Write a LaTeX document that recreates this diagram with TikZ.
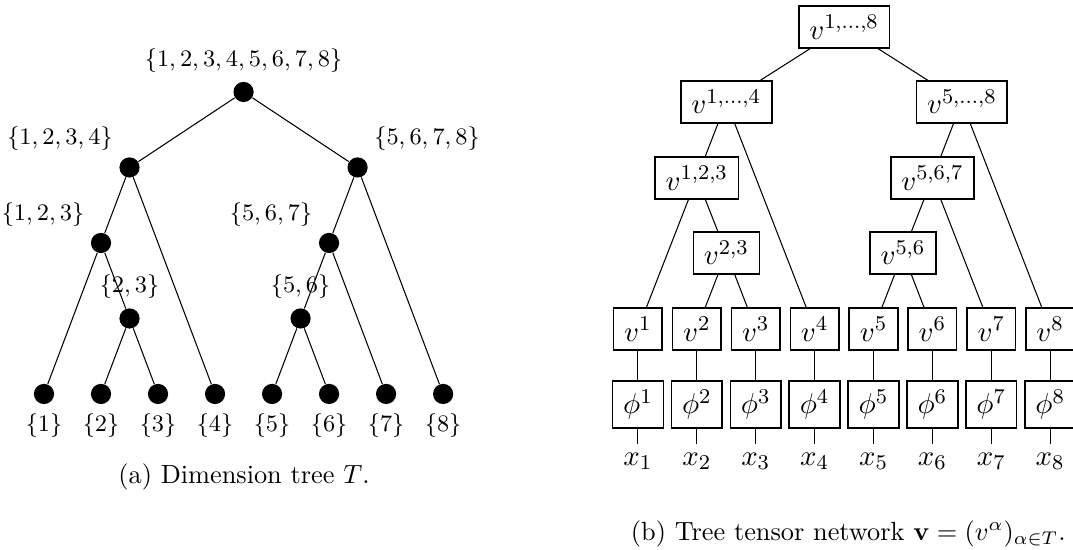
\documentclass[tikz,border=0pt]{standalone}
\usepackage{amsmath}
\usetikzlibrary{positioning}
\begin{document}
\begin{tikzpicture}[
    dot/.style={circle, fill=black, inner sep=0pt, minimum size=.27cm},
    lab/.style={font=\small},
    tens/.style={draw, semithick, font=\fontsize{11}{13}\selectfont, inner xsep=4pt, inner ysep=3.4pt},
    var/.style={anchor=north, font=\fontsize{11}{13}\selectfont}
  ]
  \useasboundingbox (0,0) rectangle (14.34,7.35);
  % (a) dimension tree
  \node [dot, label={[lab]above:$\{1,2,3,4,5,6,7,8\}$}] (t18) at (3.255,6.121) {};
  \node [dot, label={[lab]north west:$\{1,2,3,4\}$}] (t14) at (1.731,5.112) {};
  \node [dot, label={[lab]north east:$\{5,6,7,8\}$}] (t58) at (4.779,5.112) {};
  \node [dot, label={[lab]north west:$\{1,2,3\}$}] (t13) at (1.350,4.103) {};
  \node [dot, label={[lab]north west:$\{5,6,7\}$}] (t57) at (4.398,4.103) {};
  \node [dot, label={[lab]above:$\{2,3\}$}] (t23) at (1.731,3.094) {};
  \node [dot, label={[lab]above:$\{5,6\}$}] (t56) at (4.017,3.094) {};
  \node [dot, label={[lab]below:$\{1\}$}] (t1) at (0.588,2.085) {};
  \node [dot, label={[lab]below:$\{2\}$}] (t2) at (1.350,2.085) {};
  \node [dot, label={[lab]below:$\{3\}$}] (t3) at (2.112,2.085) {};
  \node [dot, label={[lab]below:$\{4\}$}] (t4) at (2.874,2.085) {};
  \node [dot, label={[lab]below:$\{5\}$}] (t5) at (3.636,2.085) {};
  \node [dot, label={[lab]below:$\{6\}$}] (t6) at (4.398,2.085) {};
  \node [dot, label={[lab]below:$\{7\}$}] (t7) at (5.160,2.085) {};
  \node [dot, label={[lab]below:$\{8\}$}] (t8) at (5.922,2.085) {};
  \draw (t18) -- (t14) (t18) -- (t58);
  \draw (t14) -- (t13) (t14) -- (t4) (t13) -- (t1) (t13) -- (t23) (t23) -- (t2) (t23) -- (t3);
  \draw (t58) -- (t57) (t58) -- (t8) (t57) -- (t56) (t57) -- (t7) (t56) -- (t5) (t56) -- (t6);
  \node (capa) at (3.261,0.976) {(a) Dimension tree $T$.};
  % (b) tree tensor network
  \node [tens] (v18) at (11.281,6.989) {$v^{1,\dots,8}$};
  \node [tens] (v14) at (9.707,5.987) {$v^{1,\dots,4}$};
  \node [tens] (v58) at (12.855,5.987) {$v^{5,\dots,8}$};
  \node [tens] (v13) at (9.313,4.971) {$v^{1,2,3}$};
  \node [tens] (v57) at (12.461,4.971) {$v^{5,6,7}$};
  \node [tens] (v23) at (9.707,3.969) {$v^{2,3}$};
  \node [tens] (v56) at (12.068,3.969) {$v^{5,6}$};
  \node [tens] (v1) at (8.526,2.953) {$v^1$};
  \node [tens] (v2) at (9.313,2.953) {$v^2$};
  \node [tens] (v3) at (10.100,2.953) {$v^3$};
  \node [tens] (v4) at (10.887,2.953) {$v^4$};
  \node [tens] (v5) at (11.674,2.953) {$v^5$};
  \node [tens] (v6) at (12.461,2.953) {$v^6$};
  \node [tens] (v7) at (13.248,2.953) {$v^7$};
  \node [tens] (v8) at (14.035,2.953) {$v^8$};
  \node [tens] (p1) at (8.526,1.944) {$\phi^1$};
  \node [tens] (p2) at (9.313,1.944) {$\phi^2$};
  \node [tens] (p3) at (10.100,1.944) {$\phi^3$};
  \node [tens] (p4) at (10.887,1.944) {$\phi^4$};
  \node [tens] (p5) at (11.674,1.944) {$\phi^5$};
  \node [tens] (p6) at (12.461,1.944) {$\phi^6$};
  \node [tens] (p7) at (13.248,1.944) {$\phi^7$};
  \node [tens] (p8) at (14.035,1.944) {$\phi^8$};
  \node [var] (x1) at (8.526,1.417) {$x_1$};
  \node [var] (x2) at (9.313,1.417) {$x_2$};
  \node [var] (x3) at (10.100,1.417) {$x_3$};
  \node [var] (x4) at (10.887,1.417) {$x_4$};
  \node [var] (x5) at (11.674,1.417) {$x_5$};
  \node [var] (x6) at (12.461,1.417) {$x_6$};
  \node [var] (x7) at (13.248,1.417) {$x_7$};
  \node [var] (x8) at (14.035,1.417) {$x_8$};
  \draw (v18) -- (v14) (v18) -- (v58);
  \draw (v14) -- (v13) (v14) -- (v4) (v13) -- (v1) (v13) -- (v23) (v23) -- (v2) (v23) -- (v3);
  \draw (v58) -- (v57) (v58) -- (v8) (v57) -- (v56) (v57) -- (v7) (v56) -- (v5) (v56) -- (v6);
  \draw (v1) -- (p1) (v2) -- (p2) (v3) -- (p3) (v4) -- (p4) (v5) -- (p5) (v6) -- (p6) (v7) -- (p7) (v8) -- (p8);
  \draw (p1) -- (x1) (p2) -- (x2) (p3) -- (x3) (p4) -- (x4) (p5) -- (x5) (p6) -- (x6) (p7) -- (x7) (p8) -- (x8);
  \node (capb) at (11.337,0.214) {(b) Tree tensor network $\mathbf{v}=(v^\alpha)_{\alpha\in T}$.};
\end{tikzpicture}
\end{document}
